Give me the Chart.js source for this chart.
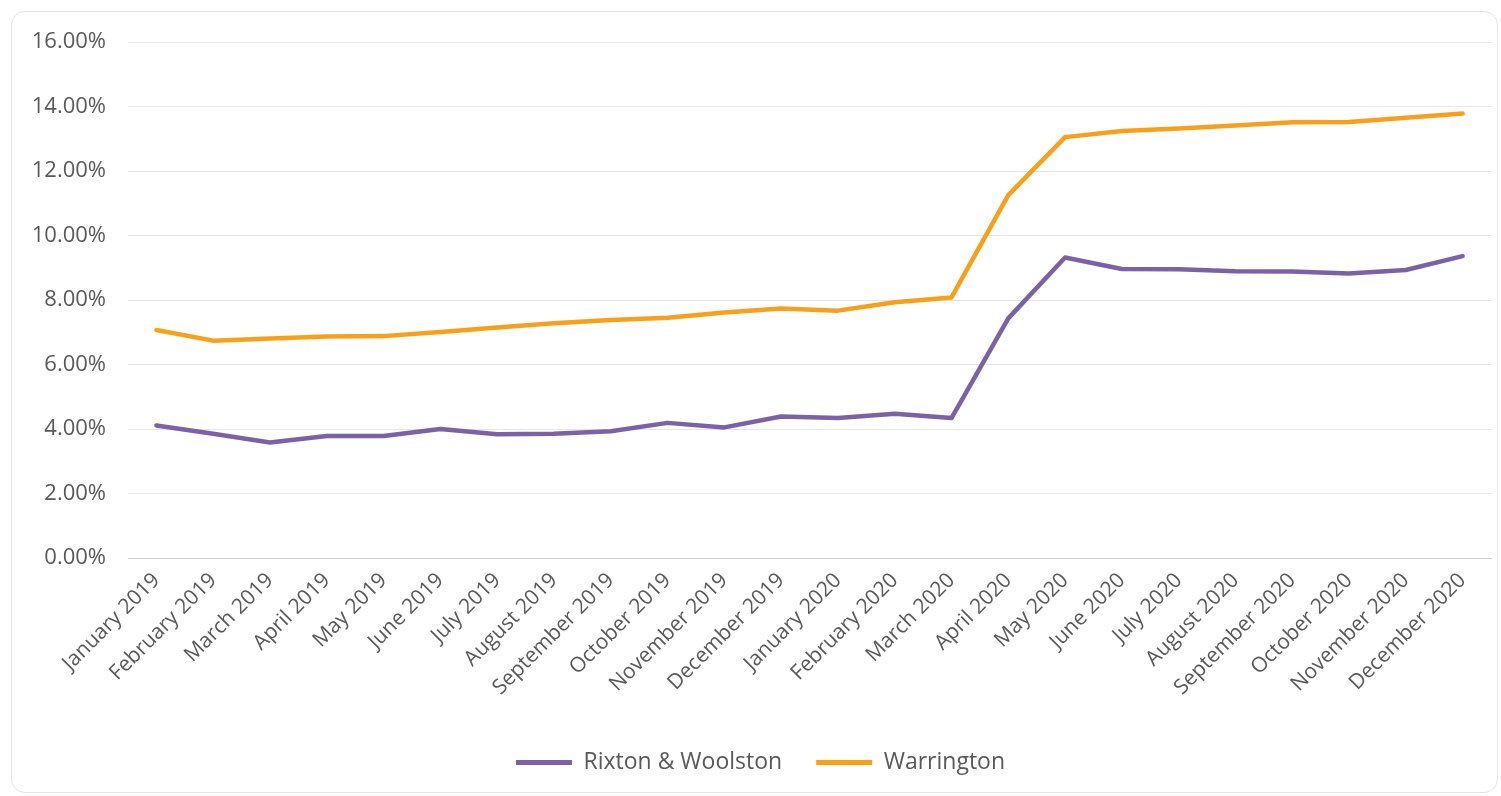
<!DOCTYPE html>
<html>
<head>
<meta charset="utf-8">
<script src="https://cdn.jsdelivr.net/npm/chart.js@4.4.1/dist/chart.umd.min.js"></script>
<style>
  html, body { margin: 0; padding: 0; background: #fff; }
  #wrap { position: relative; width: 1501px; height: 796px; }
  #frame {
    position: absolute; left: 11px; top: 11px; right: 3px; bottom: 3px;
    border: 1px solid #e3e3e3; border-radius: 14px; pointer-events: none;
  }
</style>
</head>
<body>
<div id="wrap">
  <canvas id="chart" width="1501" height="796"></canvas>
  <div id="frame"></div>
</div>
<script>
/* ── data ── */
const months = [
  'January 2019', 'February 2019', 'March 2019', 'April 2019', 'May 2019', 'June 2019',
  'July 2019', 'August 2019', 'September 2019', 'October 2019', 'November 2019', 'December 2019',
  'January 2020', 'February 2020', 'March 2020', 'April 2020', 'May 2020', 'June 2020',
  'July 2020', 'August 2020', 'September 2020', 'October 2020', 'November 2020', 'December 2020'
];

// claimant rate, % of working-age residents
const rixtonWoolston = [
  4.11, 3.85, 3.58, 3.78, 3.78, 4.00, 3.84, 3.85, 3.93, 4.19, 4.05, 4.39,
  4.34, 4.47, 4.34, 7.43, 9.32, 8.96, 8.95, 8.89, 8.88, 8.82, 8.93, 9.36
];
const warrington = [
  7.07, 6.74, 6.81, 6.87, 6.88, 7.01, 7.15, 7.28, 7.38, 7.45, 7.61, 7.74,
  7.67, 7.93, 8.08, 11.25, 13.05, 13.24, 13.32, 13.41, 13.51, 13.52, 13.65, 13.78
];

const yTicks = [0, 2, 4, 6, 8, 10, 12, 14, 16];

const PURPLE = '#7b62a6';
const ORANGE = '#f9a01b';
const TEXT   = '#595959';
const FONT   = "'Open Sans', 'Liberation Sans', sans-serif";

Chart.defaults.font.family = FONT;
Chart.defaults.color = TEXT;

new Chart(document.getElementById('chart'), {
  type: 'line',
  data: {
    labels: months,
    datasets: [
      {
        label: 'Rixton & Woolston', data: rixtonWoolston,
        borderColor: PURPLE, backgroundColor: PURPLE,
        borderWidth: 4.5, pointRadius: 0, tension: 0, borderCapStyle: 'round', borderJoinStyle: 'round',
      },
      {
        label: 'Warrington', data: warrington,
        borderColor: ORANGE, backgroundColor: ORANGE,
        borderWidth: 4.5, pointRadius: 0, tension: 0, borderCapStyle: 'round', borderJoinStyle: 'round',
      },
    ]
  },
  options: {
    responsive: false,
    animation: false,
    layout: { padding: { top: 42, right: 10, bottom: 12, left: 30 } },
    plugins: {
      tooltip: { enabled: false },
      legend: {
        position: 'bottom',
        labels: {
          boxWidth: 56, boxHeight: 5, padding: 34,
          font: { size: 23 }, color: TEXT,
          generateLabels: chart => chart.data.datasets.map((ds, i) => ({
            text: ds.label, fillStyle: ds.borderColor, strokeStyle: ds.borderColor,
            lineWidth: 0, datasetIndex: i, fontColor: TEXT,
          })),
        }
      }
    },
    scales: {
      x: {
        offset: true,
        grid: { display: false },
        border: { display: true, color: '#d0d0d0', width: 1 },
        ticks: { autoSkip: false, maxRotation: 45, minRotation: 45, font: { size: 21 }, padding: 2 },
        afterFit: s => { s.height = 159; },
      },
      y: {
        min: 0, max: 16,
        afterBuildTicks: s => { s.ticks = yTicks.map(v => ({ value: v })); },
        grid: { color: '#e6e6e6', lineWidth: 1, drawTicks: false },
        border: { display: false },
        ticks: { padding: 22, font: { size: 22 }, callback: v => v.toFixed(2) + '%' },
        afterFit: s => { s.width = 98; },
      }
    }
  }
});
</script>
</body>
</html>
